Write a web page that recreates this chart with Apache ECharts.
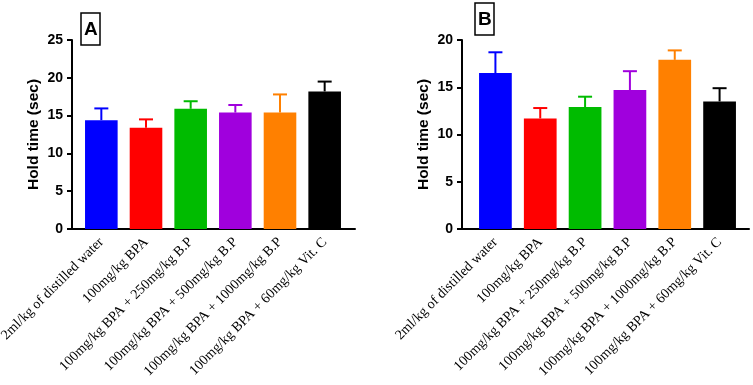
<!DOCTYPE html>
<html>
<head>
<meta charset="utf-8">
<script src="https://cdn.jsdelivr.net/npm/echarts@6/dist/echarts.min.js"></script>
<style>
  html, body { margin: 0; padding: 0; background: #fff; }
  #main { width: 753px; height: 385px; }
</style>
</head>
<body>
<div id="main"></div>
<script>
var groups = ['2ml/kg of distilled water', '100mg/kg BPA', '100mg/kg BPA + 250mg/kg B.P',
  '100mg/kg BPA + 500mg/kg B.P', '100mg/kg BPA + 1000mg/kg B.P', '100mg/kg BPA + 60mg/kg Vit. C'];
var colors = ['#0000ff', '#ff0000', '#00bb00', '#a000dd', '#ff8000', '#000000'];

var meanA = [14.4, 13.4, 15.9, 15.4, 15.4, 18.2];
var sdA = [1.55, 1.1, 1.0, 1.0, 2.4, 1.3];
var meanB = [16.5, 11.7, 12.9, 14.7, 17.9, 13.5];
var sdB = [2.2, 1.1, 1.1, 2.0, 1.0, 1.4];

var yMaxA = 25, yMaxB = 20, yStep = 5;

var chart = echarts.init(document.getElementById('main'));

function barData(means) {
  return means.map(function (v, i) {
    return { value: v, itemStyle: { color: colors[i] } };
  });
}

function errData(means, sds) {
  return means.map(function (v, i) { return [i, v, v + sds[i]]; });
}

function renderErr(params, api) {
  var i = api.value(0);
  var lo = api.coord([i, api.value(1)]);
  var hi = api.coord([i, api.value(2)]);
  var style = { stroke: colors[i], lineWidth: 2 };
  return {
    type: 'group',
    children: [
      { type: 'line', shape: { x1: lo[0], y1: lo[1], x2: hi[0], y2: hi[1] }, style: style },
      { type: 'line', shape: { x1: hi[0] - 7, y1: hi[1], x2: hi[0] + 7, y2: hi[1] }, style: style }
    ]
  };
}

var lineStyle = { color: '#000', width: 2 };
var catLabel = { rotate: 45, interval: 0, margin: 11, fontSize: 14, color: '#000', fontFamily: 'Liberation Serif' };
var valLabel = { fontSize: 14, fontWeight: 'bold', color: '#000', margin: 9, fontFamily: 'Liberation Sans' };
var nameStyle = { fontSize: 15.5, fontWeight: 'bold', color: '#000', fontFamily: 'Liberation Sans' };
var boxText = { fontSize: 19, fontWeight: 'bold', color: '#000', fontFamily: 'Liberation Sans' };

// frame grids carry the y axis and the long baseline; inner grids carry the bars
var option = {
  animation: false,
  title: [
    { text: 'A', left: 81, top: 13, padding: [7, 3, 6, 3], borderColor: '#000', borderWidth: 1.5, textStyle: boxText },
    { text: 'B', left: 475, top: 3, padding: [7, 3, 6, 3], borderColor: '#000', borderWidth: 1.5, textStyle: boxText }
  ],
  grid: [
    { left: 72, width: 283, top: 40, height: 189, outerBoundsMode: 'none' },
    { left: 79, width: 268, top: 40, height: 189, outerBoundsMode: 'none' },
    { left: 462, width: 287, top: 40, height: 189, outerBoundsMode: 'none' },
    { left: 473, width: 269, top: 40, height: 189, outerBoundsMode: 'none' }
  ],
  xAxis: [
    { gridIndex: 0, type: 'value', min: 0, max: 1, axisLine: { lineStyle: lineStyle },
      axisTick: { show: false }, axisLabel: { show: false }, splitLine: { show: false } },
    { gridIndex: 1, type: 'category', data: groups, axisLine: { show: false },
      axisTick: { alignWithLabel: true, length: 5, lineStyle: lineStyle }, axisLabel: catLabel },
    { gridIndex: 2, type: 'value', min: 0, max: 1, axisLine: { lineStyle: lineStyle },
      axisTick: { show: false }, axisLabel: { show: false }, splitLine: { show: false } },
    { gridIndex: 3, type: 'category', data: groups, axisLine: { show: false },
      axisTick: { alignWithLabel: true, length: 5, lineStyle: lineStyle }, axisLabel: catLabel }
  ],
  yAxis: [
    { gridIndex: 0, type: 'value', min: 0, max: yMaxA, interval: yStep,
      name: 'Hold time (sec)', nameLocation: 'middle', nameGap: 30, nameTextStyle: nameStyle,
      axisLine: { show: true, lineStyle: lineStyle }, axisTick: { show: true, length: 5, lineStyle: lineStyle },
      axisLabel: valLabel, splitLine: { show: false } },
    { gridIndex: 1, type: 'value', min: 0, max: yMaxA, show: false },
    { gridIndex: 2, type: 'value', min: 0, max: yMaxB, interval: yStep,
      name: 'Hold time (sec)', nameLocation: 'middle', nameGap: 30, nameTextStyle: nameStyle,
      axisLine: { show: true, lineStyle: lineStyle }, axisTick: { show: true, length: 5, lineStyle: lineStyle },
      axisLabel: valLabel, splitLine: { show: false } },
    { gridIndex: 3, type: 'value', min: 0, max: yMaxB, show: false }
  ],
  series: [
    { type: 'custom', xAxisIndex: 1, yAxisIndex: 1, renderItem: renderErr, data: errData(meanA, sdA), z: 1 },
    { type: 'bar', xAxisIndex: 1, yAxisIndex: 1, barWidth: '73%', data: barData(meanA), z: 2 },
    { type: 'custom', xAxisIndex: 3, yAxisIndex: 3, renderItem: renderErr, data: errData(meanB, sdB), z: 1 },
    { type: 'bar', xAxisIndex: 3, yAxisIndex: 3, barWidth: '73%', data: barData(meanB), z: 2 }
  ]
};

chart.setOption(option);
</script>
</body>
</html>
